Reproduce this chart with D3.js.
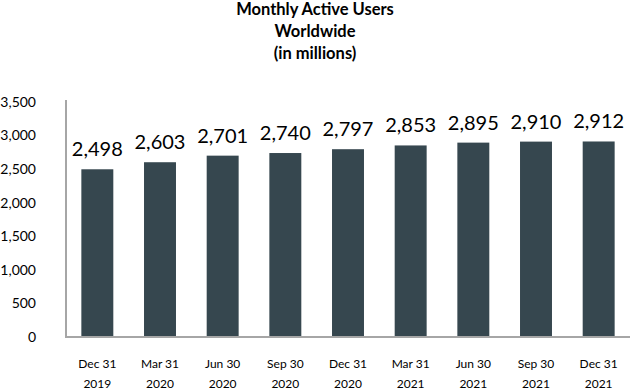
<!DOCTYPE html>
<html>
<head>
<meta charset="utf-8">
<script src="https://cdn.jsdelivr.net/npm/d3@7"></script>
<style>
  body { margin: 0; background: #fff; }
  svg text { font-family: Lato, "Open Sans", sans-serif; fill: #000; }
</style>
</head>
<body>
<svg id="chart" width="630" height="390"></svg>
<script>
const quarters = ['Dec 31', 'Mar 31', 'Jun 30', 'Sep 30', 'Dec 31', 'Mar 31', 'Jun 30', 'Sep 30', 'Dec 31'];
const years    = ['2019', '2020', '2020', '2020', '2020', '2021', '2021', '2021', '2021'];
const users    = [2498, 2603, 2701, 2740, 2797, 2853, 2895, 2910, 2912];
const yTicks   = [0, 500, 1000, 1500, 2000, 2500, 3000, 3500];
const titleLines = ['Monthly Active Users', 'Worldwide', '(in millions)'];

const svg = d3.select('#chart');
const idx = d3.range(users.length);

const x = d3.scaleBand().domain(idx).range([66, 630]).paddingInner(0.49).paddingOuter(0.245);
const y = d3.scaleLinear().domain([0, 3500]).range([337, 102]);

// title
svg.append('g').selectAll('text')
    .data(titleLines)
    .join('text')
    .attr('x', 315)
    .attr('y', (d, i) => 15 + i * 22)
    .attr('text-anchor', 'middle')
    .style('font-size', '16.5px')
    .style('font-weight', 'bold')
    .text(d => d);

// y tick labels (no tick marks)
svg.append('g').selectAll('text')
    .data(yTicks)
    .join('text')
    .attr('x', 36)
    .attr('y', d => y(d))
    .attr('dy', '0.35em')
    .attr('text-anchor', 'end')
    .style('font-size', '14px')
    .text(d => d3.format(',')(d));

// bars
svg.append('g').selectAll('rect')
    .data(idx)
    .join('rect')
    .attr('x', i => x(i))
    .attr('width', x.bandwidth())
    .attr('y', i => y(users[i]))
    .attr('height', i => y(0) - y(users[i]))
    .attr('fill', '#36474f');

// value labels
svg.append('g').selectAll('text')
    .data(idx)
    .join('text')
    .attr('x', i => x(i) + x.bandwidth() / 2)
    .attr('y', i => y(users[i]) - 13)
    .attr('text-anchor', 'middle')
    .style('font-size', '20px')
    .text(i => d3.format(',')(users[i]));

// axes lines
svg.append('line')
    .attr('x1', 66).attr('x2', 66)
    .attr('y1', 100).attr('y2', 338)
    .attr('stroke', '#a6a6a6').attr('stroke-width', 2);
svg.append('line')
    .attr('x1', 65).attr('x2', 630)
    .attr('y1', 337).attr('y2', 337)
    .attr('stroke', '#a6a6a6').attr('stroke-width', 2);

// category labels
const cat = svg.append('g').selectAll('g')
    .data(idx)
    .join('g')
    .attr('transform', i => `translate(${x(i) + x.bandwidth() / 2},0)`);
cat.append('text')
    .attr('y', 368)
    .attr('text-anchor', 'middle')
    .style('font-size', '12px')
    .text(i => quarters[i]);
cat.append('text')
    .attr('y', 388)
    .attr('text-anchor', 'middle')
    .style('font-size', '12px')
    .text(i => years[i]);
</script>
</body>
</html>
